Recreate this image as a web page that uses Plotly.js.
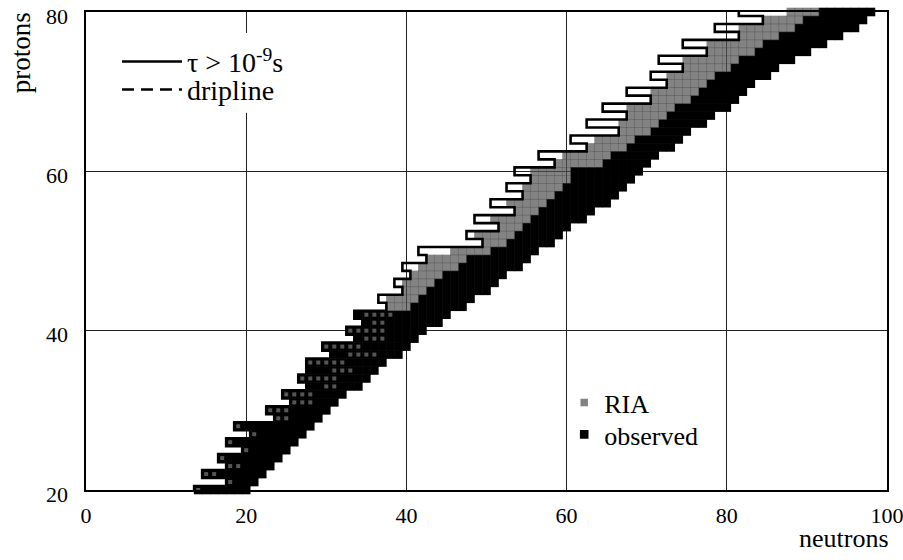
<!DOCTYPE html>
<html><head><meta charset="utf-8">
<script src="https://cdn.plot.ly/plotly-3.0.1.min.js"></script>
<style>html,body{margin:0;padding:0;background:#fff}</style>
</head><body><div id="chart" style="width:903px;height:560px"></div>
<script>
// proton number of each row of the chart
const zRows     = [80,79,78,77,76,75,74,73,72,71,70,69,68,67,66,65,64,63,62,61,60,59,58,57,56,55,54,53,52,51,50,49,48,47,46,45,44,43,42,41,40,39,38,37,36,35,34,33,32,31,30,29,28,27,26,25,24,23,22,21,20];
// first neutron number inside the tau > 1e-9 s boundary
const tauFirstN = [82,85,79,82,75,78,72,75,71,73,68,71,65,68,63,67,61,63,57,59,54,56,53,55,51,54,49,52,48,50,42,43,40,41,39,40,37,38,34,35,33,34,30,31,28,28,27,28,25,26,23,24,19,21,18,20,17,18,15,18,14];
// RIA reach (neutron number range per row)
const riaFromN  = [88,85,82,82,78,78,75,75,73,73,71,71,68,68,67,67,64,63,60,59,56,56,55,55,53,54,51,52,49,50,46,43,42,41,40,40,38,38,35,36,33,35,30,33,28,31,27,30,25,26,23,24,19,21,18,20,17,18,15,18,14];
const riaToN    = [91,89,88,86,84,83,81,80,78,77,76,75,73,72,71,70,68,67,65,64,60,60,59,58,57,56,55,54,53,52,50,47,46,44,43,42,41,40,38,37,37,37,34,36,32,33,31,31,28,28,25,25,19,21,18,20,17,19,16,18,14];
// observed nuclei (neutron number range per row)
const obsFromN  = [92,90,89,87,85,84,82,81,79,78,77,76,74,73,72,71,69,68,66,65,61,61,60,59,58,57,56,55,54,53,51,48,47,45,44,43,42,41,34,35,33,34,30,31,28,28,27,28,25,26,23,24,19,21,18,20,17,18,15,18,14];
const obsToN    = [98,97,96,94,92,90,88,86,85,83,82,81,80,78,77,75,74,73,71,70,69,68,67,66,65,63,62,60,59,58,56,55,54,52,51,50,48,47,45,44,42,41,40,39,37,36,35,34,32,31,30,29,28,27,26,25,24,23,22,21,20];
const xTicks = [0,20,40,60,80,100];
const yTicks = [20,40,60,80];

// expand ranges into one square per nucleus
const obsX = [], obsY = [];
const riaX = [], riaY = [], riaSize = [], riaColor = [];
zRows.forEach((z, i) => {
  for (let n = obsFromN[i]; n <= obsToN[i]; n++) { obsX.push(n); obsY.push(z); }
  for (let n = riaFromN[i]; n <= riaToN[i]; n++) {
    const overObs = n >= obsFromN[i] && n <= obsToN[i];
    riaX.push(n); riaY.push(z);
    riaSize.push(overObs ? 4 : 8.6);
    riaColor.push(overObs ? '#7a7a7a' : '#4e4e4e');
  }
});
// boundary line along the cell edges
const tauX = [], tauY = [];
zRows.forEach((z, i) => {
  tauX.push(tauFirstN[i] - 0.5, tauFirstN[i] - 0.5);
  tauY.push(z + 0.5, z - 0.5);
});

const serif = 'Liberation Serif, Times New Roman, serif';
const traces = [
  {type:'scatter', mode:'markers', x:obsX, y:obsY, name:'observed', legend:'legend4',
   cliponaxis:false, marker:{symbol:'square', size:8.6, color:'#000', line:{width:0}}},
  {type:'scatter', mode:'markers', x:riaX, y:riaY, name:'RIA', legend:'legend2',
   cliponaxis:false, marker:{symbol:'square', size:riaSize, color:riaColor, line:{width:0}}},
  {type:'scatter', mode:'lines', x:tauX, y:tauY, name:'τ > 10<sup>-9</sup>s', legend:'legend',
   line:{color:'#000', width:2.6}},
  {type:'scatter', mode:'lines', x:[null], y:[null], name:'dripline', legend:'legend3',
   line:{color:'#000', width:2.4, dash:'12px,7px'}}
];

const axisCommon = {
  showline:true, mirror:true, linecolor:'#000', linewidth:1.6,
  showgrid:true, gridcolor:'#222', gridwidth:1, zeroline:false, ticks:'',
  ticklabeloverflow:'allow',
  tickfont:{family:serif, size:22, color:'#000'}
};
const legendFont = {family:serif, size:28, color:'#000'};
const keyFont = {family:serif, size:26, color:'#000'};
const clear = 'rgba(0,0,0,0)';
const layout = {
  width:903, height:560,
  margin:{l:86, r:16, t:12, b:70},
  paper_bgcolor:'#fff', plot_bgcolor:'#fff',
  showlegend:true,
  xaxis:Object.assign({}, axisCommon, {range:[0,100], tickvals:xTicks, ticklabelstandoff:5}),
  yaxis:Object.assign({}, axisCommon, {range:[20,80], tickvals:yTicks, ticklabelstandoff:12, ticklabelshift:4}),
  legend:{x:0.0387, y:0.948, xanchor:'left', yanchor:'top', bgcolor:clear, borderwidth:0,
          itemwidth:60, font:legendFont},
  legend3:{x:0.0387, y:0.8895, xanchor:'left', yanchor:'top', bgcolor:clear, borderwidth:0,
          itemwidth:60, font:legendFont},
  legend2:{x:0.597, y:0.232, xanchor:'left', yanchor:'top', bgcolor:clear, borderwidth:0,
           font:keyFont},
  legend4:{x:0.597, y:0.1653, xanchor:'left', yanchor:'top', bgcolor:clear, borderwidth:0,
           font:keyFont},
  shapes:[
    // white backing behind the line key (hides the grid there, as in the original)
    {type:'rect', xref:'paper', yref:'paper', x0:0.036, x1:0.267, y0:0.789, y1:0.956,
     fillcolor:'#fff', line:{width:0}, layer:'above'}
  ],
  annotations:[
    {text:'protons', xref:'paper', yref:'paper', x:-0.0811, y:0.914, xanchor:'center', yanchor:'middle',
     showarrow:false, textangle:-90, font:{family:serif, size:27, color:'#000'}},
    {text:'neutrons', xref:'paper', yref:'paper', x:0.946, y:-0.1025, xanchor:'center', yanchor:'middle',
     showarrow:false, font:{family:serif, size:26, color:'#000'}}
  ]
};
Plotly.newPlot('chart', traces, layout, {displayModeBar:false, staticPlot:true});
</script></body></html>
